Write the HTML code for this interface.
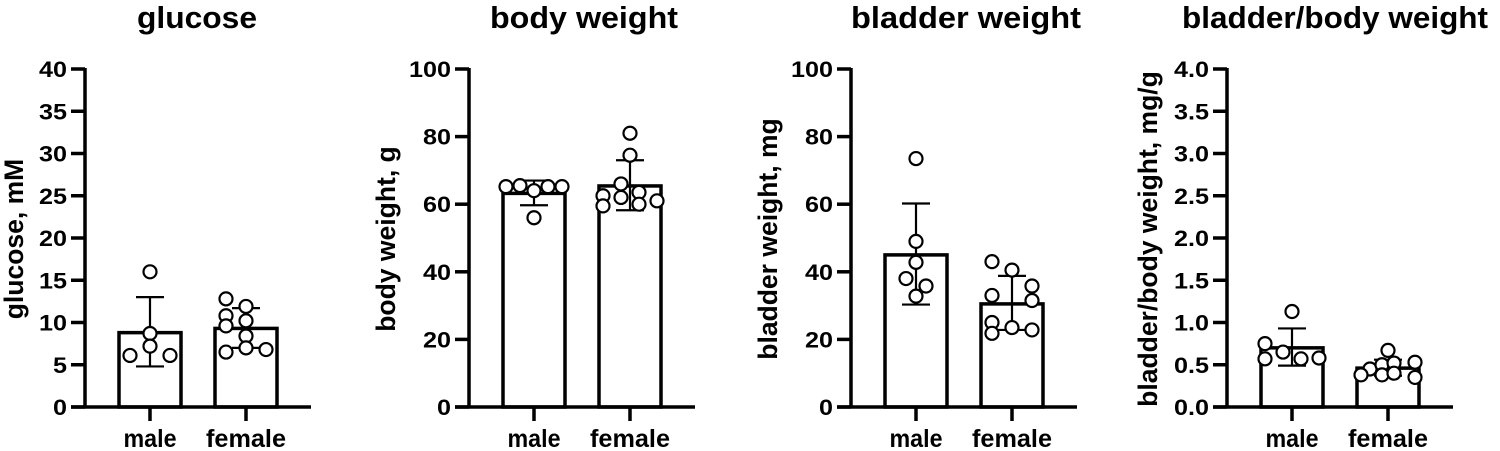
<!DOCTYPE html>
<html><head><meta charset="utf-8"><style>
body{margin:0;background:#fff;width:1500px;height:451px;overflow:hidden}
svg{display:block;font-family:"Liberation Sans",sans-serif;font-weight:bold}
</style></head><body>
<svg id="fig" width="1500" height="451"></svg>
<script>
const categories = ["male","female"];
const titles = ["glucose","body weight","bladder weight","bladder/body weight"];
const yTitles = ["glucose, mM","body weight, g","bladder weight, mg","bladder/body weight, mg/g"];
const yMax = [40,100,100,4];
const yTicks = [[0,5,10,15,20,25,30,35,40],[0,20,40,60,80,100],[0,20,40,60,80,100],[0,0.5,1,1.5,2,2.5,3,3.5,4]];
const tickDecimals = [0,0,0,1];
const means = [[8.8,9.3],[63.2,65.4],[45,30.5],[0.70,0.46]];
const errLow = [[4.8,7.0],[59.7,58.2],[30.3,22.8],[0.49,0.37]];
const errHigh = [[13,11.7],[67,73],[60.2,38.8],[0.93,0.56]];
const pointValues = [
 [[16,8.7,7.2,6.1,6.1],[12.8,10.8,9.6,11.9,10.2,8.4,7.0,6.5,6.8]],
 [[65.2,65.5,64,65.2,65.2,56],[81,74.5,66,63.5,62.5,62,59.5,60,61]],
 [[73.5,49,42.8,38,35.8,32.8],[43,40.5,35.8,33,31.5,25,23.5,22.8,21.8]],
 [[1.13,0.75,0.65,0.57,0.57,0.58],[0.67,0.45,0.5,0.52,0.53,0.38,0.38,0.4,0.35]]
];
const pointJitter = [
 [[0,0,0,-20,20],[-20,-20,-20,0,0,0,0,-20,20]],
 [[-28,-14,0,14,28,0],[0,0,-9,9,-27,-9,-27,9,27]],
 [[0,0,0,-10,10,0],[-20,0,20,-20,20,-20,0,20,-20]],
 [[0,-27,-9,-27,9,27],[0,-18,-6,6,27,-27,-6,6,27]]
];
const axisXs = [85,469,851,1227];
const titleCX = [197,584,966,1335];
const titleLen = [120,188,230,306];
const yTitleX = [23,395,777,1157];
const NS="http://www.w3.org/2000/svg";
const svg=document.getElementById('fig');
function mk(tag,attrs,parent){const e=document.createElementNS(NS,tag);for(const k in attrs)e.setAttribute(k,attrs[k]);(parent||svg).appendChild(e);return e;}
const Y0=407,Y1=69;
titles.forEach((t,p)=>{
 const ax=axisXs[p];
 const g=mk('g',{});
 
 
 const ys=v=>Y0-(v/yMax[p])*(Y0-Y1);
 const xc=i=>ax+65+i*96;
 const ttl=mk('text',{x:titleCX[p],y:28,'text-anchor':'middle','font-size':31,textLength:titleLen[p],lengthAdjust:'spacingAndGlyphs'},g);ttl.textContent=t;
 
 
 categories.forEach((c,i)=>{
  const r=mk('rect',{x:xc(i)-31,y:ys(means[p][i]),width:62,height:Y0-ys(means[p][i]),fill:'#fff',stroke:'#000','stroke-width':3.5},g);
  
  
 });
 const ya=mk('line',{x1:ax,y1:Y1-1,x2:ax,y2:Y0,stroke:'#000','stroke-width':3.5},g);
 
 
 const xa=mk('line',{x1:ax-14,y1:Y0,x2:ax+226,y2:Y0,stroke:'#000','stroke-width':3.5},g);
 
 
 yTicks[p].forEach(v=>{
  mk('line',{x1:ax-14,y1:ys(v),x2:ax,y2:ys(v),stroke:'#000','stroke-width':3.5},g);
  const s=v.toFixed(tickDecimals[p]);
  const len=s.replace('.','').length*14+(s.includes('.')?7:0);
  const tl=mk('text',{x:ax-18,y:ys(v)+8,'text-anchor':'end','font-size':22,textLength:len,lengthAdjust:'spacingAndGlyphs'},g);tl.textContent=s;
  
  
 });
 categories.forEach((c,i)=>{
  mk('line',{x1:xc(i),y1:Y0,x2:xc(i),y2:Y0+14,stroke:'#000','stroke-width':3.5},g);
  const l=mk('text',{x:xc(i),y:447,'text-anchor':'middle','font-size':25,textLength:(i?80:53),lengthAdjust:'spacingAndGlyphs'},g);l.textContent=c;
  
  
 });
 const ytx=yTitleX[p],yty=239;
 const yt=mk('text',{x:ytx,y:yty,'text-anchor':'middle','font-size':26.5,transform:`rotate(-90 ${ytx} ${yty})`},g);yt.textContent=yTitles[p];
 
 
 categories.forEach((c,i)=>{
  const x=xc(i),lo=ys(errLow[p][i]),hi=ys(errHigh[p][i]);
  const eg=mk('g',{stroke:'#000','stroke-width':2.2},g);
  
  
  mk('line',{x1:x,y1:lo,x2:x,y2:hi},eg);
  mk('line',{x1:x-14,y1:lo,x2:x+14,y2:lo},eg);
  mk('line',{x1:x-14,y1:hi,x2:x+14,y2:hi},eg);
 });
 categories.forEach((c,i)=>{
  pointValues[p][i].forEach((v,k)=>{
   const pt=mk('circle',{cx:xc(i)+pointJitter[p][i][k],cy:ys(v),r:6.5,fill:'#fff',stroke:'#000','stroke-width':2.2},g);
   
   
  });
 });
});
</script>
</body></html>
